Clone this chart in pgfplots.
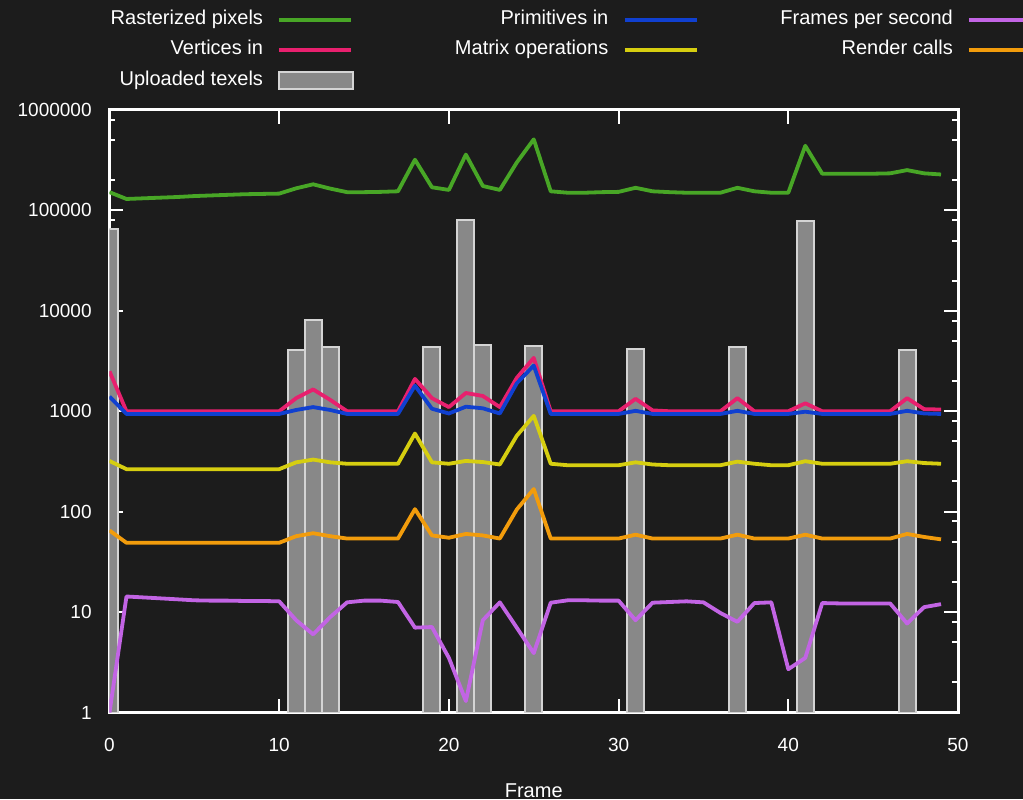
\documentclass[border=0pt]{standalone}
\usepackage{pgfplots}
\usepackage{pgfplotstable}
\pgfplotsset{compat=1.18}
\usepackage{fontspec}
\setmainfont{Liberation Sans}
\definecolor{bg}{HTML}{1C1C1C}
\definecolor{cGreen}{HTML}{48A626}
\definecolor{cPink}{HTML}{E8206E}
\definecolor{cBlue}{HTML}{1040D0}
\definecolor{cYellow}{HTML}{D6CE10}
\definecolor{cOrange}{HTML}{F29C0C}
\definecolor{cPurple}{HTML}{C264E4}
\definecolor{cBar}{HTML}{888888}
\definecolor{cBarEdge}{HTML}{D4D4D4}
\pgfplotsset{
  linelegend/.style={legend image code/.code={\draw[##1] (0pt,0pt) -- (36pt,0pt);}},
  barlegend/.style={legend image code/.code={\draw[##1] (0pt,-4.25pt) rectangle (37pt,4.25pt);}},
}
\pgfplotstableread{
f g v p m r s
0 152000 2500 1400 320 65 1
1 130000 1000 940 265 49 14.3
2 132000 1000 940 265 49 14.0
3 134000 1000 940 265 49 13.7
4 136000 1000 940 265 49 13.4
5 139000 1000 940 265 49 13.1
6 141000 1000 940 265 49 13.0
7 143000 1000 940 265 49 13.0
8 145000 1000 940 265 49 12.9
9 146000 1000 940 265 49 12.9
10 147000 1000 940 265 49 12.8
11 166000 1350 1030 310 57 8.3
12 182000 1650 1100 330 61 6.0
13 165000 1300 1030 310 57 8.9
14 152000 1000 940 300 54 12.5
15 152000 1000 940 300 54 13.0
16 153000 1000 940 300 54 13.0
17 155000 1000 940 300 54 12.6
18 320000 2100 1800 600 106 7.0
19 170000 1350 1060 310 58 7.1
20 160000 1100 950 300 55 3.5
21 360000 1520 1110 320 60 1.3
22 175000 1420 1070 312 58 8.3
23 160000 1100 950 295 54 12.5
24 300000 2150 1900 570 105 7.0
25 510000 3400 2850 900 168 3.9
26 155000 1000 940 300 54 12.4
27 150000 1000 940 290 54 13.1
28 150000 1000 940 290 54 13.1
29 152000 1000 940 290 54 13.0
30 153000 1000 940 290 54 13.0
31 168000 1330 1010 310 59 8.3
32 155000 1020 940 295 54 12.4
33 152000 1000 940 290 54 12.6
34 150000 1000 940 290 54 12.8
35 150000 1000 940 290 54 12.5
36 150000 1000 940 290 54 9.8
37 168000 1350 1010 315 59 8.0
38 155000 1000 940 300 54 12.3
39 150000 1000 940 290 54 12.5
40 150000 1000 940 290 54 2.7
41 440000 1200 990 318 59 3.5
42 232000 1000 940 300 54 12.3
43 232000 1000 940 300 54 12.2
44 232000 1000 940 300 54 12.2
45 232000 1000 940 300 54 12.2
46 234000 1000 940 300 54 12.2
47 252000 1350 1010 318 60 7.7
48 234000 1050 950 305 56 11.2
49 228000 1040 940 300 53 12.0
}\datatable
\pgfplotstableread{
f t
0 65536
11 4096
12 8192
13 4400
19 4350
21 80000
22 4600
25 4450
31 4150
37 4350
41 78000
47 4100
}\bartable
\begin{document}
\begin{tikzpicture}
\fill[bg] (-54.75pt,-43.25pt) rectangle (456.75pt,356.25pt);
\begin{axis}[
  at={(0,0)}, anchor=south west,
  scale only axis, width=424.25pt, height=301.25pt,
  xmin=0, xmax=50, ymin=1, ymax=1000000, ymode=log,
  font=\fontsize{10}{12}\selectfont,
  /pgf/number format/assume math mode=true,
  axis line style={white, line width=1.5pt},
  tick style={white, line width=1pt},
  major tick length=7pt, minor tick length=3pt,
  tick align=inside, tick pos=both,
  xtick={0,10,20,30,40,50},
  xticklabels={0,10,20,30,40,50},
  ytick={1,10,100,1000,10000,100000,1000000},
  yticklabels={1,10,100,1000,10000,100000,1000000},
  minor ytick={2,5,8,20,50,80,200,500,800,2000,5000,8000,20000,50000,80000,200000,500000,800000},
  tick label style={text=white, inner sep=0pt, font=\fontsize{9.5}{11}\selectfont},
  yticklabel style={anchor=east, xshift=-8.75pt},
  xticklabel style={anchor=north, yshift=-12.5pt},
  xlabel={Frame},
  xlabel style={text=white, at={(axis description cs:0.5,0)}, anchor=base, yshift=-42.5pt},
  legend columns=3,
  legend cell align=right,
  legend plot pos=right,
  linelegend,
  legend style={at={(axis description cs:-0.03123,1.165)}, anchor=north west,
    draw=none, fill=none, text=white, inner sep=0pt, outer sep=0pt,
    row sep=5.8pt, column sep=0pt, font=\fontsize{10}{12}\selectfont,
    nodes={inner sep=0pt, text height=7.2pt, text depth=2pt},
    /tikz/every odd column/.append style={column sep=7pt},
    /tikz/every even column/.append style={column sep=37pt}},
]
\addlegendimage{cGreen, line width=2.2pt}
\addlegendentry{\makebox[90pt][r]{Rasterized pixels}}
\addlegendimage{cBlue, line width=2.2pt}
\addlegendentry{\makebox[90pt][r]{Primitives in}}
\addlegendimage{cPurple, line width=2.2pt}
\addlegendentry{\makebox[90pt][r]{Frames per second}}
\addlegendimage{cPink, line width=2.2pt}
\addlegendentry{\makebox[90pt][r]{Vertices in}}
\addlegendimage{cYellow, line width=2.2pt}
\addlegendentry{\makebox[90pt][r]{Matrix operations}}
\addlegendimage{cOrange, line width=2.2pt}
\addlegendentry{\makebox[90pt][r]{Render calls}}
\addlegendimage{fill=cBar, draw=cBarEdge, line width=1.2pt, barlegend}
\addlegendentry{\makebox[90pt][r]{Uploaded texels}}

\addplot[forget plot, ybar, bar width=1, fill=cBar, draw=cBarEdge, line width=1pt] table[x=f, y=t] {\bartable};
\addplot[forget plot, cGreen, line width=1.9pt, line join=round] table[x=f, y=g] {\datatable};
\addplot[forget plot, cPink, line width=1.9pt, line join=round] table[x=f, y=v] {\datatable};
\addplot[forget plot, cBlue, line width=1.9pt, line join=round] table[x=f, y=p] {\datatable};
\addplot[forget plot, cYellow, line width=1.9pt, line join=round] table[x=f, y=m] {\datatable};
\addplot[forget plot, cOrange, line width=1.9pt, line join=round] table[x=f, y=r] {\datatable};
\addplot[forget plot, cPurple, line width=1.9pt, line join=round] table[x=f, y=s] {\datatable};
\end{axis}
\pgfresetboundingbox
\path[use as bounding box] (-54.75pt,-43.25pt) rectangle (456.75pt,356.25pt);
\end{tikzpicture}
\end{document}
